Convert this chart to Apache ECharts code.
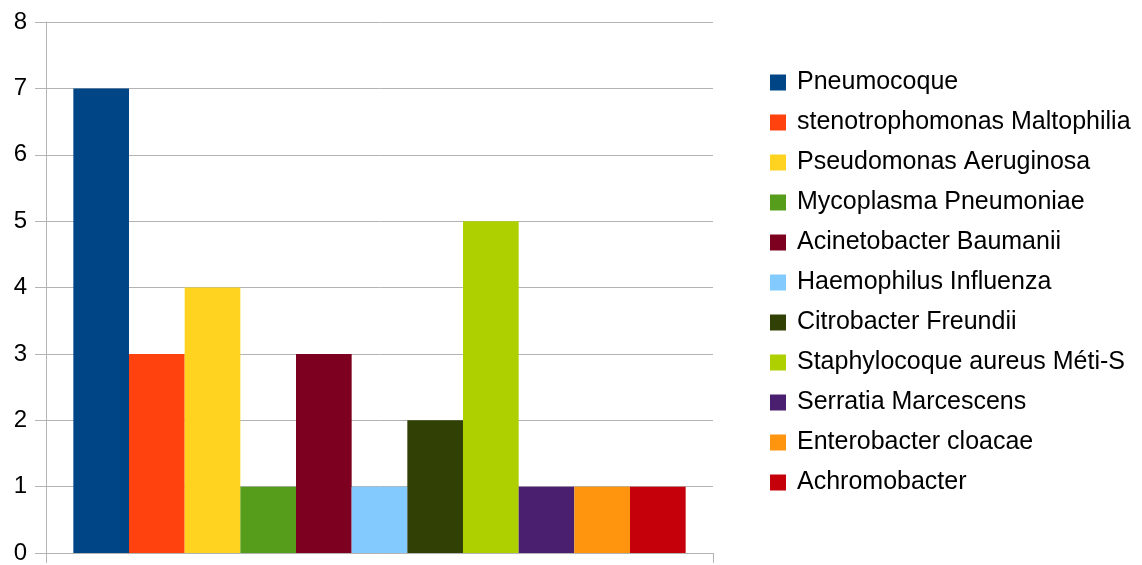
<!DOCTYPE html>
<html>
<head>
<meta charset="utf-8">
<script src="https://cdn.jsdelivr.net/npm/echarts@6/dist/echarts.min.js"></script>
<style>
  html, body { margin: 0; padding: 0; background: #ffffff; }
  #chart { width: 1142px; height: 565px; }
</style>
</head>
<body>
<div id="chart"></div>
<script>
// Germ counts, one bar per organism in a single category
const categories = [''];
const seriesNames = [
  'Pneumocoque',
  'stenotrophomonas Maltophilia',
  'Pseudomonas Aeruginosa',
  'Mycoplasma Pneumoniae',
  'Acinetobacter Baumanii',
  'Haemophilus Influenza',
  'Citrobacter Freundii',
  'Staphylocoque aureus Méti-S',
  'Serratia Marcescens',
  'Enterobacter cloacae',
  'Achromobacter'
];
const seriesValues = [7, 3, 4, 1, 3, 1, 2, 5, 1, 1, 1];
const seriesColors = [
  '#004586', '#ff420e', '#ffd320', '#579d1c', '#7e0021', '#83caff',
  '#314004', '#aecf00', '#4b1f6f', '#ff950e', '#c5000b'
];
const yTicks = [0, 1, 2, 3, 4, 5, 6, 7, 8];

const gridColor = '#b3b3b3';
const fontFamily = '"Liberation Sans", Arial, sans-serif';
const tickLength = 11;

const chart = echarts.init(document.getElementById('chart'), null, { renderer: 'canvas' });

const series = seriesNames.map((name, i) => ({
  name: name,
  type: 'bar',
  data: [seriesValues[i]],
  itemStyle: { color: seriesColors[i] },
  barGap: '0%',
  barCategoryGap: '8.2%'
}));

chart.setOption({
  animation: false,
  color: seriesColors,
  grid: { left: 46, right: 429, top: 22, bottom: 9, containLabel: false },
  legend: {
    orient: 'vertical',
    left: 770,
    top: 70,
    padding: 0,
    itemWidth: 16,
    itemHeight: 16,
    itemGap: 15,
    icon: 'rect',
    textStyle: { fontFamily: fontFamily, fontSize: 25, color: '#000000', lineHeight: 25, padding: [0, 0, 0, 6] },
    data: seriesNames
  },
  xAxis: {
    type: 'category',
    data: categories,
    axisLine: { show: true, lineStyle: { color: gridColor, width: 1 } },
    axisTick: { show: true, length: 10, inside: false, lineStyle: { color: gridColor } },
    axisLabel: { show: false },
    splitLine: { show: false }
  },
  yAxis: {
    type: 'value',
    min: yTicks[0],
    max: yTicks[yTicks.length - 1],
    interval: 1,
    axisLine: { show: true, lineStyle: { color: gridColor, width: 1 } },
    axisTick: { show: true, length: tickLength, inside: false, lineStyle: { color: gridColor, width: 1 } },
    axisLabel: { color: '#000000', fontSize: 24, fontFamily: fontFamily, margin: 19 },
    splitLine: { show: true, lineStyle: { color: gridColor, width: 1 } }
  },
  series: series
});
</script>
</body>
</html>
